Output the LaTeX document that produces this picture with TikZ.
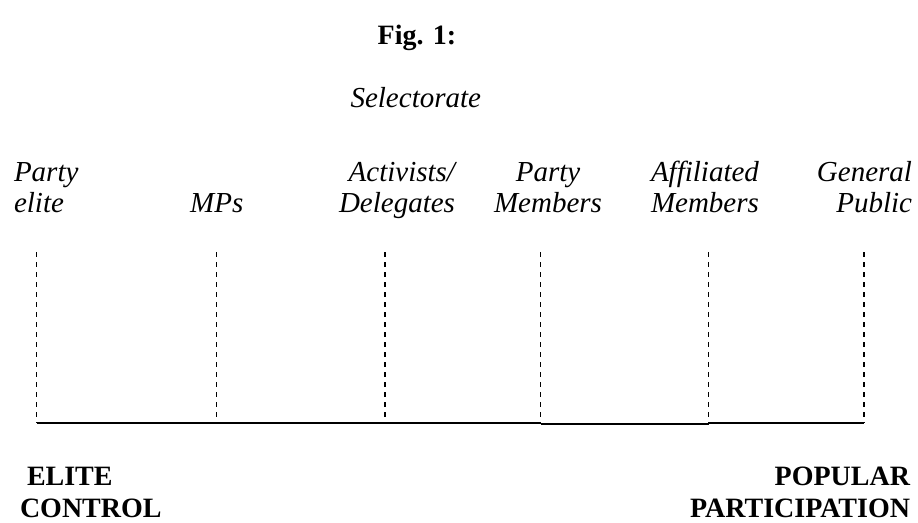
\documentclass[tikz,border=0pt]{standalone}
\usepackage{fontspec}
\setmainfont{Liberation Serif}
\tikzset{
  lab/.style={inner sep=0pt, outer sep=0pt, font=\fontsize{29}{31.5}\selectfont\itshape},
  boldlab/.style={inner sep=0pt, outer sep=0pt, font=\fontsize{28}{32}\selectfont\bfseries},
  guide/.style={line width=1.1pt, dash pattern=on 5pt off 5pt},
  axis/.style={line width=1.7pt}
}
\begin{document}
\begin{tikzpicture}[x=1pt,y=-1pt]
\useasboundingbox (0,0) rectangle (918,522);
% title
\node[boldlab, anchor=base] (fig) at (417,44) {Fig. 1:};
\node[lab, anchor=base east] (sel) at (481,107) {Selectorate};
% column labels (base anchor = last line)
\node[lab, anchor=base west, align=left] (pe) at (14,212.5) {Party\\elite};
\node[lab, anchor=base] (mps) at (216.7,212.5) {MPs};
\node[lab, anchor=base east, align=right] (ad) at (455,212.5) {Activists/\\Delegates};
\node[lab, anchor=base, align=center] (pm) at (548,212.5) {Party\\Members};
\node[lab, anchor=base west, align=left] (am) at (651,212.5) {Affiliated\\Members};
\node[lab, anchor=base east, align=right] (gp) at (912,212.5) {General\\Public};
% guide lines
\foreach \i/\x in {1/36.7,2/216.7,3/385,4/540.7,5/708.7,6/864}{
  \coordinate (t\i) at (\x,252);
  \coordinate (b\i) at (\x,422.7);
  \draw[guide] (t\i) -- (b\i);
}
\draw[axis] (b1) -- (b4);
\draw[axis] ([yshift=-1pt]b4) -- ([yshift=-1pt]b5);
\draw[axis] (b5) -- (b6);
% end labels
\node[boldlab, anchor=base west, align=left] (ec) at (20,517) {\hspace*{7pt}ELITE\\CONTROL};
\node[boldlab, anchor=base east, align=right] (pp) at (910,517) {POPULAR\\PARTICIPATION};
\end{tikzpicture}
\end{document}
